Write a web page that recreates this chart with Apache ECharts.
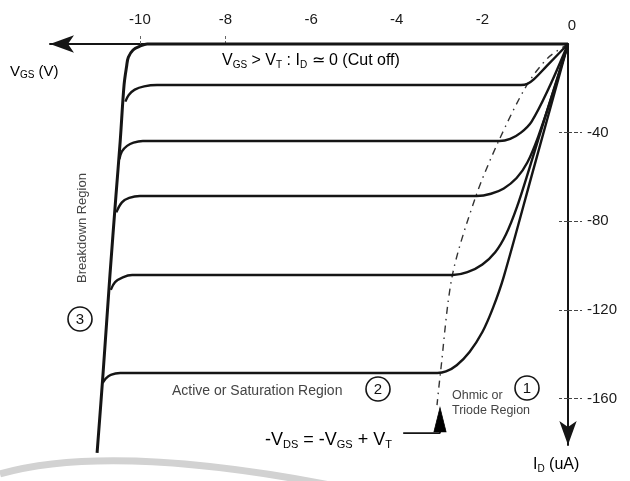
<!DOCTYPE html>
<html>
<head>
<meta charset="utf-8">
<script src="https://cdn.jsdelivr.net/npm/echarts@6/dist/echarts.min.js"></script>
<style>html,body{margin:0;padding:0;background:#fff;}#c{width:630px;height:481px;}</style>
</head>
<body>
<div id="c"></div>
<script>
// ---- data (V_DS in volts, I_D in uA) ----
const xTickValues = [-10, -8, -6, -4, -2, 0];
const yTickValues = [-160, -120, -80, -40];
// cut-off line (I_D = 0) continuing into the breakdown line
const cutoffBreakdown = [[0,0],[-9.83,0],[-10.0,-1.0],[-10.16,-2.7],[-10.27,-6],[-10.31,-10],[-10.37,-18.5],[-10.46,-43.8],[-10.56,-68.6],[-10.70,-104.3],[-10.86,-148.5],[-11.0,-184.6]];
const curveA = [[0,0],[-0.5,-10],[-0.8,-16],[-0.95,-18],[-1.1,-18.5],[-9.6,-18.5],[-9.9,-19.1],[-10.12,-20.6],[-10.26,-23],[-10.34,-26]];
const curveB = [[0,0],[-0.45,-20],[-0.85,-35],[-1.1,-40],[-1.35,-42.8],[-1.6,-43.8],[-9.93,-43.8],[-10.15,-44.5],[-10.3,-46],[-10.42,-48.5],[-10.48,-52]];
const curveC = [[0,0],[-0.35,-22],[-0.7,-42],[-0.95,-53.5],[-1.2,-60.5],[-1.5,-65.2],[-1.8,-67.6],[-2.13,-68.6],[-10.0,-68.6],[-10.25,-69.5],[-10.42,-71.5],[-10.55,-76]];
const curveD = [[0,0],[-0.55,-34],[-0.9,-56],[-1.2,-74],[-1.45,-86],[-1.7,-94],[-2.0,-99.5],[-2.35,-103],[-2.69,-104.3],[-10.18,-104.3],[-10.4,-105.3],[-10.58,-107.5],[-10.68,-111]];
const curveE = [[0,0],[-0.8,-56],[-1.5,-105],[-1.75,-119],[-2.0,-130],[-2.3,-139],[-2.6,-145],[-2.85,-147.8],[-3.05,-148.5],[-10.46,-148.5],[-10.68,-149.3],[-10.8,-151],[-10.87,-153]];
const boundary = [[0,0],[-0.47,-6.3],[-0.96,-18.5],[-1.62,-43.8],[-2.15,-68.6],[-2.7,-104.3],[-2.98,-148.5],[-3.06,-163]];
const pointerPath = [[-3.85,-175.6],[-2.99,-175.6],[-2.99,-168]];
const pointerHead = [[-2.99,-169.5]];

const chart = echarts.init(document.getElementById('c'), null, {renderer: 'canvas'});
const FONT = "'Liberation Sans', Arial, sans-serif";
const INK = '#151515';

function curve(data, width) {
  return {type: 'line', data: data, symbol: 'none', smooth: 0.35, clip: false,
          lineStyle: {color: INK, width: width || 2.4}, z: 3, silent: true};
}

chart.setOption({
  animation: false,
  backgroundColor: '#fff',
  grid: {left: 50, right: 62, top: 44, bottom: 36},
  xAxis: {
    type: 'value', position: 'top', min: -12.1, max: 0,
    axisLine: {onZero: false, lineStyle: {color: INK, width: 2}, symbol: ['arrow', 'none'], symbolSize: [13, 24]},
    axisTick: {show: true, customValues: [-10, -8], length: 10, lineStyle: {color: '#666', width: 1, type: [3, 2]}},
    axisLabel: {customValues: xTickValues, margin: 17, color: '#1a1a1a', fontSize: 15, fontFamily: FONT,
      formatter: v => v === 0 ? '{z|0}' : String(v),
      rich: {z: {fontSize: 15, fontFamily: FONT, color: '#1a1a1a', padding: [0, 0, -6, 8]}}},
    splitLine: {show: false}
  },
  yAxis: [{
    type: 'value', position: 'right', min: -181, max: 0,
    axisLine: {onZero: false, lineStyle: {color: INK, width: 2}, symbol: ['arrow', 'none'], symbolSize: [13, 24]},
    axisTick: {show: true, customValues: yTickValues, length: 14, lineStyle: {color: '#444', width: 1.2, type: [4, 2]}},
    axisLabel: {customValues: yTickValues, margin: 19, color: '#1a1a1a', fontSize: 15, fontFamily: FONT},
    splitLine: {show: false}
  }, {
    type: 'value', position: 'right', min: -181, max: 0,
    axisLine: {show: false},
    axisTick: {show: true, inside: true, customValues: yTickValues, length: 9, lineStyle: {color: '#444', width: 1.2, type: [4, 2]}},
    axisLabel: {show: false}, splitLine: {show: false}
  }],
  series: [
    curve(cutoffBreakdown, 3),
    curve(curveA), curve(curveB), curve(curveC), curve(curveD), curve(curveE),
    {type: 'line', data: boundary, symbol: 'none', smooth: 0.3, clip: false, silent: true,
     lineStyle: {color: '#333', width: 1.4, type: [7, 5, 1.5, 5]}, z: 2},
    {type: 'line', data: pointerPath, symbol: 'none', clip: false, silent: true,
     lineStyle: {color: INK, width: 1.8}, z: 3},
    {type: 'scatter', data: pointerHead, symbol: 'triangle', symbolSize: [12, 24], silent: true,
     itemStyle: {color: '#000', opacity: 1, borderColor: '#000', borderWidth: 1}, z: 5, zlevel: 0}
  ],
  graphic: [
    {type: 'bezierCurve', silent: true, z: -1,
     shape: {x1: 0, y1: 474, x2: 330, y2: 485, cpx1: 110, cpy1: 443},
     style: {stroke: '#d2d2d2', lineWidth: 7, fill: 'none'}},
    {type: 'text', x: 10, y: 72, style: {text: '{m|V}{s|GS}{m| (V)}', verticalAlign: 'middle',
      rich: {m: {fontSize: 15, fontFamily: FONT, color: '#1a1a1a'},
             s: {fontSize: 10, fontFamily: FONT, color: '#555', padding: [7, 0, 0, 0]}}}},
    {type: 'text', x: 222, y: 61, style: {text: '{m|V}{s|GS}{m| > V}{s|T}{m| : I}{s|D}{m| ≃ 0 (Cut off)}', verticalAlign: 'middle',
      rich: {m: {fontSize: 16, fontFamily: FONT, color: '#111'},
             s: {fontSize: 10, fontFamily: FONT, color: '#555', padding: [8, 0, 0, 0]}}}},
    {type: 'text', x: 82, y: 228, rotation: Math.PI / 2,
     style: {text: 'Breakdown Region', fontSize: 13, fontFamily: FONT, fill: '#444', align: 'center', verticalAlign: 'middle'}},
    {type: 'circle', shape: {cx: 80, cy: 319, r: 12}, style: {fill: 'none', stroke: INK, lineWidth: 1.6}},
    {type: 'text', x: 80, y: 320, style: {text: '3', fontSize: 15, fontFamily: FONT, fill: '#111', align: 'center', verticalAlign: 'middle'}},
    {type: 'text', x: 172, y: 391, style: {text: 'Active or Saturation Region', fontSize: 14, fontFamily: FONT, fill: '#444', verticalAlign: 'middle'}},
    {type: 'circle', shape: {cx: 378, cy: 389, r: 12}, style: {fill: 'none', stroke: INK, lineWidth: 1.6}},
    {type: 'text', x: 378, y: 390, style: {text: '2', fontSize: 15, fontFamily: FONT, fill: '#111', align: 'center', verticalAlign: 'middle'}},
    {type: 'text', x: 452, y: 396, style: {text: 'Ohmic or', fontSize: 12.5, fontFamily: FONT, fill: '#444', verticalAlign: 'middle'}},
    {type: 'text', x: 452, y: 411, style: {text: 'Triode Region', fontSize: 12.5, fontFamily: FONT, fill: '#444', verticalAlign: 'middle'}},
    {type: 'circle', shape: {cx: 527, cy: 388, r: 12}, style: {fill: 'none', stroke: INK, lineWidth: 1.6}},
    {type: 'text', x: 527, y: 389, style: {text: '1', fontSize: 15, fontFamily: FONT, fill: '#111', align: 'center', verticalAlign: 'middle'}},
    {type: 'text', x: 265, y: 440, style: {text: '{m|-V}{s|DS}{m| = -V}{s|GS}{m| + V}{s|T}', verticalAlign: 'middle',
      rich: {m: {fontSize: 18, fontFamily: FONT, color: '#111'},
             s: {fontSize: 11, fontFamily: FONT, color: '#444', padding: [9, 0, 0, 0]}}}},
    {type: 'text', x: 533, y: 465, style: {text: '{m|I}{s|D}{m| (uA)}', verticalAlign: 'middle',
      rich: {m: {fontSize: 16, fontFamily: FONT, color: '#111'},
             s: {fontSize: 10, fontFamily: FONT, color: '#444', padding: [8, 0, 0, 0]}}}}
  ]
});
</script>
</body>
</html>
